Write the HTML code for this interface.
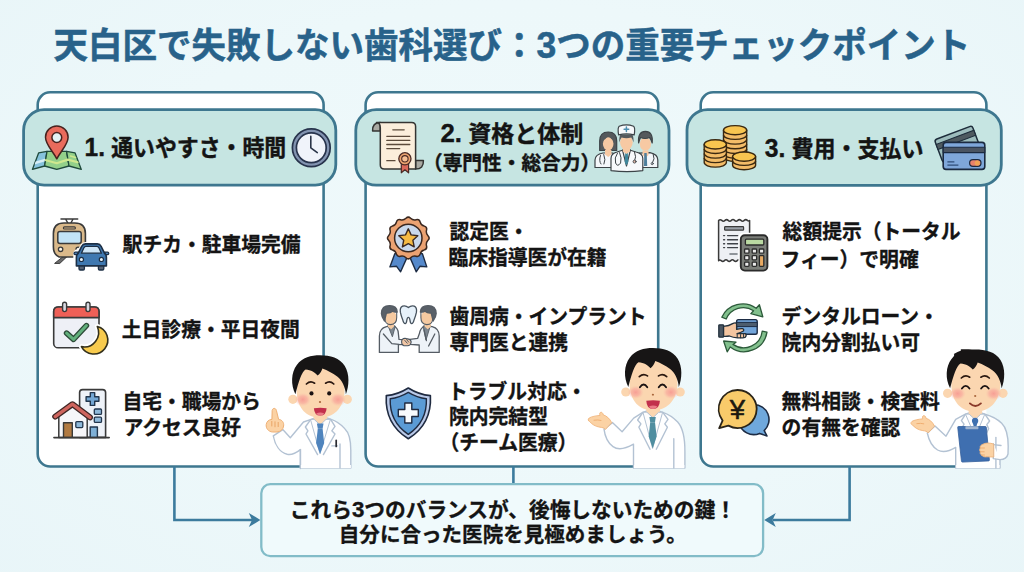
<!DOCTYPE html>
<html lang="ja">
<head>
<meta charset="utf-8">
<title>天白区で失敗しない歯科選び：3つの重要チェックポイント</title>
<style>
html,body{margin:0;padding:0;}
body{width:1024px;height:572px;overflow:hidden;position:relative;
  background:#ecf7fa;
  font-family:"Liberation Sans","Noto Sans CJK JP",sans-serif;font-weight:700;color:#141414;}
#bg{position:absolute;left:0;top:0;width:1024px;height:572px;
  background:radial-gradient(ellipse 760px 470px at 50% 46%, #eff9fb 0%, #edf8fa 55%, #e8f5f8 100%);}
svg#art{position:absolute;left:0;top:0;width:1024px;height:572px;}
.t{position:absolute;white-space:nowrap;line-height:1;transform-origin:0 50%;-webkit-text-stroke:0.32px currentColor;}
#title{-webkit-text-stroke:0.5px currentColor;}
#title .d{font-size:1.03em;}
#b1 .d{font-size:1.08em;}
#h1,#h2a,#h2b,#h3{-webkit-text-stroke:0.4px currentColor;}
.d{font-size:1.12em;line-height:0;}
.hw{font-feature-settings:"halt";}
</style>
</head>
<body>
<div id="bg"></div>
<svg id="art" viewBox="0 0 1024 572" width="1024" height="572">
<!-- CARDS -->
<g>
  <rect x="37.7" y="92.3" width="285.9" height="374.2" rx="12.5" fill="#ffffff"/>
  <path d="M302 466.5 H50.2 A12.5 12.5 0 0 1 37.7 454.0 V104.8 A12.5 12.5 0 0 1 50.2 92.3 H311.1 A12.5 12.5 0 0 1 323.6 104.8 V358" fill="none" stroke="#3e778f" stroke-width="2.6"/>
  <rect x="365.6" y="92.3" width="292.6" height="374.2" rx="12.5" fill="#ffffff"/>
  <path d="M635 466.5 H378.1 A12.5 12.5 0 0 1 365.6 454.0 V104.8 A12.5 12.5 0 0 1 378.1 92.3 H645.7 A12.5 12.5 0 0 1 658.2 104.8 V351" fill="none" stroke="#3e778f" stroke-width="2.6"/>
  <rect x="700.7" y="92.3" width="285.7" height="374.2" rx="12.5" fill="#ffffff"/>
  <path d="M957 466.5 H713.2 A12.5 12.5 0 0 1 700.7 454.0 V104.8 A12.5 12.5 0 0 1 713.2 92.3 H973.9 A12.5 12.5 0 0 1 986.4 104.8 V352" fill="none" stroke="#3e778f" stroke-width="2.6"/>
</g>
<!-- PILLS -->
<g fill="#c6e5e2" stroke="#3e778f" stroke-width="2.8">
  <rect x="23.6" y="109.7" width="312.2" height="75.4" rx="20.5"/>
  <rect x="355.8" y="109.7" width="313.2" height="75.5" rx="20.5"/>
  <rect x="687" y="109.6" width="314.3" height="75.7" rx="20.5"/>
</g>
<!-- CONNECTORS -->
<g fill="none" stroke="#3c7b9d" stroke-width="2.6" stroke-linejoin="miter">
  <path d="M174.4 466.5 V520 H252"/>
  <path d="M513.4 466.5 V484.2"/>
  <path d="M849.6 466.5 V520 H773"/>
</g>
<g fill="#3c7b9d">
  <path d="M260.4 520 L248.8 512.9 L252 520 L248.8 527.1 Z"/>
  <path d="M764.2 520 L775.8 512.9 L772.6 520 L775.8 527.1 Z"/>
</g>
<!-- BOTTOM BOX -->
<rect x="261.3" y="484.2" width="501.8" height="71.9" rx="9" fill="#f0fafc" stroke="#82bcc8" stroke-width="2.3"/>
<!-- ICON: map pin -->
<g stroke-linejoin="round" stroke-linecap="round">
  <path d="M38.7 152.8 L47 151.3 L44.6 166 L32.4 169.4 Z" fill="#86c3dc" stroke="#1f4a3c" stroke-width="1.3"/>
  <path d="M34.5 164.5 L45.2 161.3 L45.7 158.6 L35.6 161.6 Z" fill="#d8eef5"/>
  <path d="M47 151.3 L66.6 151.3 L69 166 L56.8 169.4 L44.6 166 Z" fill="#93d08a" stroke="#1f4a3c" stroke-width="1.3"/>
  <path d="M66.6 151.3 L75 152.8 L81.3 169.4 L69 166 Z" fill="#93d08a" stroke="#1f4a3c" stroke-width="1.3"/>
  <path d="M46 160.2 L56.8 163.2 L67.8 159.6 L77.6 162.2" stroke="#cfe88f" stroke-width="2.2" fill="none"/>
  <path d="M70.5 156 L75.5 157.5" stroke="#cfe88f" stroke-width="1.6" fill="none"/>
  <path d="M56.8 158.8 C52.5 150.5 45.5 144.5 45.5 137.2 A11.3 11.3 0 0 1 68.1 137.2 C68.1 144.5 61.1 150.5 56.8 158.8 Z" fill="#e96b5c" stroke="#47231f" stroke-width="1.5"/>
  <circle cx="56.8" cy="137.5" r="4.9" fill="#e3f3f5" stroke="#47231f" stroke-width="1.5"/>
</g>
<!-- ICON: clock -->
<g>
  <circle cx="311.3" cy="147.8" r="18.9" fill="#8293b0" stroke="#27334c" stroke-width="1.7"/>
  <circle cx="311.3" cy="147.8" r="14.9" fill="#f0f3fa" stroke="#27334c" stroke-width="1.7"/>
  <path d="M310.8 136.4 V147.8 L317.3 152.6" stroke="#2a3448" stroke-width="1.6" fill="none" stroke-linecap="round" stroke-linejoin="round"/>
</g>
<!-- ICON: certificate scroll -->
<g stroke-linejoin="round" stroke-linecap="round">
  <path d="M380.3 131 H372.6 Q372.2 122.5 380.3 122.5 Z" fill="#a9a9a2" stroke="#343432" stroke-width="1.5"/>
  <path d="M415.6 160.6 H423.4 Q423.8 169 415.6 169 Z" fill="#a9a9a2" stroke="#343432" stroke-width="1.5"/>
  <path d="M376.5 122.5 H411.6 Q415.6 122.5 415.6 126.5 V169 H384.3 Q380.3 169 380.3 165 V128 Q380.3 122.5 376.5 122.5 Z" fill="#fbeedb" stroke="#343432" stroke-width="1.5"/>
  <g stroke="#5b4a3a" stroke-width="1.3" fill="none">
    <path d="M392.8 129.8 H404.2"/>
    <path d="M386.8 136.3 H409.8"/>
    <path d="M386.8 140.4 H409.8"/>
    <path d="M386.8 144.5 H409.8"/>
    <path d="M386.8 148.6 H399.7"/>
    <path d="M386.8 160.7 H395"/>
  </g>
  <path d="M401.3 163 V172.8 L404.9 169.8 L408.6 172.8 V163 Z" fill="#d9685a" stroke="#4a2a25" stroke-width="1.2"/>
  <circle cx="404.9" cy="158.8" r="6.1" fill="#eba36f" stroke="#4a2a25" stroke-width="1.3"/>
  <circle cx="404.9" cy="158.8" r="3.2" fill="#f7bf94" stroke="#4a2a25" stroke-width="1.1"/>
</g>
<!-- ICON: doctors team -->
<g stroke-linejoin="round" stroke-linecap="round" stroke="#3c4347" stroke-width="1.2">
  <!-- left woman -->
  <path d="M599.7 150.5 V141 Q599.7 132 608.2 132 Q616.7 132 616.7 141 V150.5 Z" fill="#55595c"/>
  <path d="M595 167.5 V160 Q595 154.5 603 153 L613 153 L616 167.5 Z" fill="#f4f7fa"/>
  <path d="M605 150 H611.4 V154.5 L608.2 157 L605 154.5 Z" fill="#f7c9a3" stroke="none"/>
  <ellipse cx="608.2" cy="143.8" rx="5.3" ry="6.6" fill="#f7c9a3" stroke="none"/>
  <path d="M602.5 141 Q606 139 608.5 135.6 Q611 139 614 141 L614 137 Q611 133.6 608.2 133.6 Q604 133.6 602.5 137 Z" fill="#55595c" stroke="none"/>
  <path d="M600.5 155.5 Q598.6 161 601 164 M603.8 154.5 Q606 160 604 164" fill="none" stroke-width="1"/>
  <!-- right man -->
  <path d="M636.5 167.5 L639 153.2 L650 152.6 Q657.8 154.2 657.8 160 V167.5 Z" fill="#f4f7fa"/>
  <path d="M642.5 150.5 H648.5 V155 L645.5 158 L642.5 155 Z" fill="#f7c9a3" stroke="none"/>
  <path d="M644.3 153 L646.7 153 L647.2 166 L644 166 Z" fill="#4e7f9c" stroke="none"/>
  <ellipse cx="645.4" cy="144" rx="5.6" ry="6.8" fill="#f7c9a3" stroke="none"/>
  <path d="M638.6 143 Q637.6 131.4 645.4 131.4 Q653.2 131.4 652.2 143 Q651 139 649.5 137.5 Q645 139.5 640.6 137.5 Q639.5 139.5 638.6 143 Z" fill="#55595c"/>
  <path d="M653.2 154 Q655.4 159 652.4 163" fill="none" stroke-width="1"/>
  <circle cx="652.2" cy="163.6" r="1.1" fill="#d8dde2" stroke-width=".8"/>
  <!-- centre doctor -->
  <path d="M611 170.6 V158.5 Q611 153.5 617 152 L622.5 150.2 H630.3 L636 152 Q642.8 153.5 642.8 158.5 V170.6 Q627 172.6 611 170.6 Z" fill="#f7f9fb"/>
  <path d="M622.5 150.2 L626.5 166 L630.4 150.2 Z" fill="#dfe9ee"/>
  <path d="M625.3 152 H627.7 L628.3 162 L626.5 165.5 L624.7 162 Z" fill="#3f879b" stroke="none"/>
  <path d="M622.8 147 H630 V151.5 L626.4 154 L622.8 151.5 Z" fill="#f7c9a3" stroke="none"/>
  <ellipse cx="626.4" cy="142.3" rx="6.3" ry="7.6" fill="#f7c9a3" stroke="none"/>
  <path d="M619.3 142.5 Q619 137 620.4 134.6 H632.4 Q633.8 137 633.5 142.5 Q632.6 139 631.2 137.6 Q626.4 139 621.6 137.6 Q620.2 139 619.3 142.5 Z" fill="#55595c" stroke="none"/>
  <path d="M618.6 134.9 Q617.4 127.5 619.2 126.2 Q626.4 123.4 633.6 126.2 Q635.4 127.5 634.2 134.9 Q626.4 133 618.6 134.9 Z" fill="#f7f9fb"/>
  <path d="M626.4 127 V131.6 M624.1 129.3 H628.7" stroke="#4d8fb0" stroke-width="1.5" fill="none"/>
  <path d="M617.5 153 Q614 158 615.6 163 Q617.5 167.5 620.6 163 Q622 158 619.6 152.6" fill="none" stroke-width="1"/>
  <path d="M634.6 152.4 Q636.6 157 634.8 160.4" fill="none" stroke-width="1"/>
  <circle cx="634.6" cy="161.6" r="1.5" fill="#e4b9a8" stroke-width=".9"/>
</g>
<!-- ICON: coins -->
<g stroke="#3a2810" stroke-width="1.4" stroke-linejoin="round">
  <!-- back stack -->
  <path d="M723.5 130.2 V157 A11.6 4.5 0 0 0 746.7 157 V130.2 Z" fill="#f3bc68"/>
  <g fill="none">
    <path d="M723.5 134.9 A11.6 4.5 0 0 0 746.7 134.9"/>
    <path d="M723.5 139.6 A11.6 4.5 0 0 0 746.7 139.6"/>
    <path d="M723.5 144.3 A11.6 4.5 0 0 0 746.7 144.3"/>
    <path d="M723.5 149 A11.6 4.5 0 0 0 746.7 149"/>
    <path d="M723.5 153.6 A11.6 4.5 0 0 0 746.7 153.6"/>
  </g>
  <ellipse cx="735.1" cy="130.2" rx="11.6" ry="4.6" fill="#f8c550"/>
  <!-- left stack -->
  <path d="M704.2 144.4 V162.6 A11.1 4.5 0 0 0 726.4 162.6 V144.4 Z" fill="#f3bc68"/>
  <g fill="none">
    <path d="M704.2 149 A11.1 4.5 0 0 0 726.4 149"/>
    <path d="M704.2 153.6 A11.1 4.5 0 0 0 726.4 153.6"/>
    <path d="M704.2 158.1 A11.1 4.5 0 0 0 726.4 158.1"/>
  </g>
  <ellipse cx="715.3" cy="144.4" rx="11.1" ry="4.6" fill="#f8c550"/>
  <!-- front stack -->
  <path d="M732.6 156.6 V165.2 A11.5 4.5 0 0 0 755.6 165.2 V156.6 Z" fill="#f3bc68"/>
  <g fill="none">
    <path d="M732.6 160.9 A11.5 4.5 0 0 0 755.6 160.9"/>
  </g>
  <ellipse cx="744.1" cy="156.6" rx="11.5" ry="4.6" fill="#f8c550"/>
</g>
<!-- ICON: credit cards -->
<g stroke-linejoin="round">
  <g transform="rotate(-20.7 943 162.6)">
    <rect x="943" y="138.3" width="40.2" height="24.3" rx="2.6" fill="#9dbcbc" stroke="#1d2c3a" stroke-width="1.5"/>
    <rect x="943" y="143.2" width="40.2" height="5.4" fill="#4f5a60" stroke="#1d2c3a" stroke-width="1"/>
  </g>
  <rect x="943.2" y="142.4" width="41.6" height="27" rx="2.8" fill="#7fa7da" stroke="#1b2a40" stroke-width="1.6"/>
  <rect x="943.2" y="147.3" width="41.6" height="5.3" fill="#4a5462" stroke="#1b2a40" stroke-width="1.1"/>
  <path d="M947.4 161.8 H954.4 M947.4 165.2 H958.4" stroke="#2f4d78" stroke-width="1.3" fill="none"/>
  <rect x="969.6" y="159.6" width="11.4" height="6.8" rx="3.4" fill="#e8826c" stroke="#1b2a40" stroke-width="1.2"/>
  <circle cx="977.3" cy="163" r="2.6" fill="#f1a355"/>
</g>
<!-- ICON: train + car -->
<g stroke-linejoin="round" stroke-linecap="round">
  <path d="M61 218.9 H77.7 M65.6 219 L67.8 223 M73.1 219 L70.9 223" stroke="#3a3a3a" stroke-width="1.5" fill="none"/>
  <path d="M62.6 257 L54.6 263.4 H59.8 L66.6 257 Z M76 257 L82 262 H86 L79.8 257 Z" fill="#6d6d6d" stroke="#3a3a3a" stroke-width="1"/>
  <path d="M53.4 247 V233.5 Q53.4 223 64 223 H74.8 Q85.4 223 85.4 233.5 V247 Q85.4 254.5 79.6 257 H59.2 Q53.4 254.5 53.4 247 Z" fill="#dab98a" stroke="#3a3a3a" stroke-width="1.6"/>
  <rect x="63.4" y="226.8" width="12" height="2.2" rx="1.1" fill="#dab98a" stroke="#3a3a3a" stroke-width="1.2"/>
  <rect x="57.8" y="231.4" width="23.4" height="12" rx="2.2" fill="#c2e3f6" stroke="#3a3a3a" stroke-width="1.5"/>
  <circle cx="60.6" cy="249.3" r="2.2" fill="#fdf7ea" stroke="#3a3a3a" stroke-width="1.3"/>
  <circle cx="78.2" cy="249.3" r="2.2" fill="#fdf7ea" stroke="#3a3a3a" stroke-width="1.3"/>
  <!-- car with white halo -->
  <path d="M75.3 268 V253 Q76 251 79.5 251 L82.6 245.4 Q83.4 243.9 85.6 243.9 H97.2 Q99.4 243.9 100.2 245.4 L103.3 251 Q106.6 251 107.4 253 V268 Z" fill="#ffffff" stroke="#ffffff" stroke-width="4"/>
  <rect x="79" y="264" width="5.4" height="6" rx="1.2" fill="#566273" stroke="#1d2f45" stroke-width="1.3"/>
  <rect x="98.4" y="264" width="5.4" height="6" rx="1.2" fill="#566273" stroke="#1d2f45" stroke-width="1.3"/>
  <path d="M77.2 254.6 H75.2 Q74 254.6 74 253.4 Q74 252.2 75.2 252.2 H78.4 Z M105.6 254.6 H107.6 Q108.8 254.6 108.8 253.4 Q108.8 252.2 107.6 252.2 H104.4 Z" fill="#4a7fb5" stroke="#1d2f45" stroke-width="1.2"/>
  <path d="M76.4 265.9 V257.2 Q76.4 254.8 78.2 253.4 L81.8 246.2 Q82.8 243.9 85.4 243.9 H97.4 Q100 243.9 101 246.2 L104.6 253.4 Q106.4 254.8 106.4 257.2 V265.9 Z" fill="#3f78b0" stroke="#1d2f45" stroke-width="1.6"/>
  <path d="M81.4 253.2 L84 247.6 Q84.6 246.4 86 246.4 H96.8 Q98.2 246.4 98.8 247.6 L101.4 253.2 Z" fill="#cfe6f7" stroke="#1d2f45" stroke-width="1.3"/>
  <circle cx="81.4" cy="259.4" r="2.1" fill="#eef6fb" stroke="#1d2f45" stroke-width="1.2"/>
  <circle cx="101.4" cy="259.4" r="2.1" fill="#eef6fb" stroke="#1d2f45" stroke-width="1.2"/>
</g>
<!-- ICON: calendar + moon -->
<g stroke-linejoin="round" stroke-linecap="round">
  <rect x="53.7" y="307" width="45.3" height="40.8" rx="4.4" fill="#eef0f6" stroke="#3a3a3a" stroke-width="1.6"/>
  <path d="M53.7 317.6 V311.4 Q53.7 307 58.1 307 H94.6 Q99 307 99 311.4 V317.6 Z" fill="#ef6057" stroke="#3a3a3a" stroke-width="1.6"/>
  <rect x="62.6" y="302.2" width="4" height="9.4" rx="2" fill="#d9d9e1" stroke="#3a3a3a" stroke-width="1.4"/>
  <rect x="86" y="302.2" width="4" height="9.4" rx="2" fill="#d9d9e1" stroke="#3a3a3a" stroke-width="1.4"/>
  <path d="M66.6 333.2 L73.5 339.4 L86.4 325.6" fill="none" stroke="#2d4a38" stroke-width="5.6"/>
  <path d="M66.6 333.2 L73.5 339.4 L86.4 325.6" fill="none" stroke="#62b07c" stroke-width="3"/>
  <path d="M97.3 326.5 A14 14 0 1 1 81.4 346.6 A14.4 14.4 0 0 0 97.3 326.5 Z" fill="#ffffff" stroke="#ffffff" stroke-width="5"/>
  <path d="M97.3 326.5 A14 14 0 1 1 81.4 346.6 A14.4 14.4 0 0 0 97.3 326.5 Z" fill="#f8cb4e" stroke="#33301c" stroke-width="1.6"/>
</g>
<!-- ICON: house + hospital -->
<g stroke-linejoin="round" stroke-linecap="round">
  <path d="M79.6 437.4 V392.6 Q79.6 389.6 82.6 389.6 H102.6 Q105.6 389.6 105.6 392.6 V437.4 Z" fill="#eef2f8" stroke="#3a3a3a" stroke-width="1.6"/>
  <path d="M90.3 392.6 H94.7 V396.8 H98.9 V401.2 H94.7 V405.4 H90.3 V401.2 H86.1 V396.8 H90.3 Z" fill="#73a6d3" stroke="#23364d" stroke-width="1.4"/>
  <rect x="94.3" y="409" width="7.2" height="5.4" rx="1" fill="#8fb9da" stroke="#23364d" stroke-width="1.3"/>
  <rect x="94.3" y="417.2" width="7.2" height="5.2" rx="1" fill="#8fb9da" stroke="#23364d" stroke-width="1.3"/>
  <rect x="90.2" y="427" width="7.2" height="10.4" fill="#7fb0d6" stroke="#23364d" stroke-width="1.4"/>
  <path d="M58.8 437.4 V416 L72.4 406 L87.2 417 V437.4 Z" fill="#f6f6f9" stroke="#3a3a3a" stroke-width="1.5"/>
  <path d="M55.2 416.6 L72.4 404.2 L90 417.4" fill="none" stroke="#3f2624" stroke-width="6"/>
  <path d="M55.2 416.6 L72.4 404.2 L90 417.4" fill="none" stroke="#cf655e" stroke-width="3.4"/>
  <rect x="63.5" y="422.8" width="8.8" height="14.6" fill="#b17a42" stroke="#3a3a3a" stroke-width="1.4"/>
  <rect x="75.8" y="421.6" width="7" height="6" rx="1" fill="#8fb9da" stroke="#23364d" stroke-width="1.3"/>
  <path d="M53.9 437.6 H109.2" stroke="#3a3a3a" stroke-width="1.6"/>
</g>
<!-- ICON: medal -->
<g stroke-linejoin="round" stroke-linecap="round">
  <path d="M394.8 253.7 L389.9 266.9 L396.6 266.3 L400.6 271.8 L406.6 258.4 L403 252 Z" fill="#5589cb" stroke="#1d2c44" stroke-width="1.4"/>
  <path d="M422.4 253.7 L426.8 266.9 L419.9 266.3 L416.2 271.8 L410.4 258.4 L414 252 Z" fill="#5589cb" stroke="#1d2c44" stroke-width="1.4"/>
  <path d="M410.6 218.3 Q413.0 220.6 416.1 219.8 Q419.3 218.9 420.2 222.1 Q421.0 225.3 424.2 226.1 Q427.4 227.0 426.5 230.2 Q425.7 233.3 428.0 235.7 Q430.3 238.0 428.0 240.3 Q425.7 242.7 426.5 245.8 Q427.4 249.0 424.2 249.9 Q421.0 250.7 420.2 253.9 Q419.3 257.1 416.1 256.2 Q413.0 255.4 410.6 257.7 Q408.3 260.0 406.0 257.7 Q403.6 255.4 400.5 256.2 Q397.3 257.1 396.4 253.9 Q395.6 250.7 392.4 249.9 Q389.2 249.0 390.1 245.8 Q390.9 242.7 388.6 240.3 Q386.3 238.0 388.6 235.7 Q390.9 233.3 390.1 230.2 Q389.2 227.0 392.4 226.1 Q395.6 225.3 396.4 222.1 Q397.3 218.9 400.5 219.8 Q403.6 220.6 406.0 218.3 Q408.3 216.0 410.6 218.3 Z" fill="#eba272" stroke="#3a2820" stroke-width="1.5"/>
  <circle cx="408.3" cy="238.0" r="13.7" fill="#c9d8ec" stroke="#3a2820" stroke-width="1.5"/>
  <path d="M408.3 228.8 L411.1 234.9 L417.8 235.7 L412.9 240.3 L414.2 246.9 L408.3 243.6 L402.4 246.9 L403.7 240.3 L398.8 235.7 L405.5 234.9 Z" fill="#f5ba44" stroke="#3a2820" stroke-width="1.4"/>
</g>
<!-- ICON: handshake doctors + tooth -->
<g stroke-linejoin="round" stroke-linecap="round" stroke="#555c64" stroke-width="1.3">
  <!-- tooth -->
  <path d="M408.4 307.6 Q405.6 305.2 402.6 306.2 Q399.6 307.6 400.4 312.4 Q401.2 316 402.6 319.4 Q403.6 323.6 405.2 323.6 Q406.4 323.6 406.8 320.4 Q407.2 317.4 408.4 317.4 Q409.6 317.4 410 320.4 Q410.4 323.6 411.6 323.6 Q413.2 323.6 414.2 319.4 Q415.6 316 416.4 312.4 Q417.2 307.6 414.2 306.2 Q411.2 305.2 408.4 307.6 Z" fill="#e6f1fa" stroke="#46525e"/>
  <!-- left doctor -->
  <path d="M379.4 352.4 V336 Q379.4 328.4 386.4 326.6 L394 326 Q398.2 328.5 398.3 333 L399 339.4 L406 339.8 V344.4 L398.4 344.6 V352.4 Z" fill="#eef3f8"/>
  <path d="M388 325.6 L392.4 336.8 L395.2 326.4 Z" fill="#7d8790" stroke-width=".9"/>
  <path d="M383.4 334 L391.8 343.6 L399 344.4" fill="none"/>
  <path d="M387.2 322 H394 V326.6 L391.2 329.2 L388 326.8 Z" fill="#f5c9a0" stroke="none"/>
  <ellipse cx="390.8" cy="317.6" rx="5.9" ry="7" fill="#f5c9a0" stroke="none"/>
  <path d="M384.4 321 Q381.6 317 381.4 313.4 Q381.6 305.6 389.6 305.6 Q397 305.6 397.2 312 Q394.6 312.6 392.6 311.2 Q390 313.4 386.4 313 Q385.6 316.4 384.4 321 Z" fill="#596068"/>
  <path d="M384.9 318.5 Q384.9 324.6 390.8 324.6 Q396.7 324.6 396.7 317.6 L396.7 312.4" fill="none" stroke-width="1.1"/>
  <!-- right doctor -->
  <path d="M439.2 352.4 V336 Q439.2 328.4 432.2 326.6 L424.4 326 Q420.2 328.5 419.6 333 L417.6 338.4 L410 339.4 V344.4 L419.2 345 V352.4 Z" fill="#eef3f8"/>
  <path d="M430.4 325.6 L426 340 L423.2 326.4 Z" fill="#7d8790" stroke-width=".9"/>
  <path d="M434.8 334 L428.6 346 M424 330 L426.4 340.6" fill="none"/>
  <path d="M424 322 H430.8 V326.8 L427.6 329.2 L424.6 326.6 Z" fill="#f5c9a0" stroke="none"/>
  <ellipse cx="426.8" cy="317.6" rx="5.9" ry="7" fill="#f5c9a0" stroke="none"/>
  <path d="M433.2 321 Q436 317 436.2 313.4 Q436 305.6 428 305.6 Q420.6 305.6 420.4 312 Q423 312.6 425 311.2 Q427.6 313.4 431.2 313 Q432 316.4 433.2 321 Z" fill="#596068"/>
  <path d="M432.7 318.5 Q432.7 324.6 426.8 324.6 Q420.9 324.6 420.9 317.6 L420.9 312.4" fill="none" stroke-width="1.1"/>
  <!-- hands -->
  <path d="M402 339.6 Q404 337.8 406.4 338.6 L409.6 339.4 Q411.6 340.4 411 343 Q410.4 345.6 407.6 345.8 L403.6 345.6 Q401.4 344.6 401.6 342 Z" fill="#f1c6a4" stroke="#46525e" stroke-width="1.1"/>
  <path d="M404.8 340.4 L407.2 343.2 M406.6 339.6 L408.8 342.2" fill="none" stroke="#46525e" stroke-width=".9"/>
</g>
<!-- ICON: shield -->
<g stroke-linejoin="round" stroke-linecap="round">
  <path d="M408.3 388 Q397.6 394.8 386.3 395.6 Q384.6 424 408.3 438.8 Q432 424 430.4 395.6 Q419 394.8 408.3 388 Z" fill="#b9c9e8" stroke="#1f2a40" stroke-width="1.6"/>
  <path d="M408.3 392.4 Q399.4 397.8 390.2 398.8 Q389.4 421.8 408.3 434.4 Q427.2 421.8 426.4 398.8 Q417.2 397.8 408.3 392.4 Z" fill="#5b9bd5" stroke="#1f2a40" stroke-width="1.4"/>
  <path d="M404.8 403 H411.8 V409.5 H418.3 V416.5 H411.8 V423 H404.8 V416.5 H398.3 V409.5 H404.8 Z" fill="#f7fafd" stroke="#1f2a40" stroke-width="1.4"/>
</g>
<!-- ICON: receipt + calculator -->
<g stroke-linejoin="round" stroke-linecap="round">
  <path d="M718.6 220.6 Q720.2 218.8 721.8 220.4 Q723.4 222 725 220.4 Q726.6 218.8 728.2 220.4 Q729.8 222 731.4 220.4 Q733 218.8 734.6 220.4 Q736.2 222 737.8 220.4 Q739.4 218.8 741 220.4 Q742.6 222 744.2 220.4 Q745.8 218.8 747.4 220.4 Q748.6 221.6 749.6 220.6 V260.6 Q748.4 262.2 746.8 260.6 Q745.2 259 743.6 260.6 Q742 262.2 740.4 260.6 Q738.8 259 737.2 260.6 Q735.6 262.2 734 260.6 Q732.4 259 730.8 260.6 Q729.2 262.2 727.6 260.6 Q726 259 724.4 260.6 Q722.8 262.2 721.2 260.6 Q719.8 259.4 718.6 260.6 Z" fill="#eef0f4" stroke="#3a3a3a" stroke-width="1.5"/>
  <rect x="724.6" y="226.6" width="19" height="3.6" rx=".8" fill="#9aa0a8" stroke="#3a3a3a" stroke-width="1.2"/>
  <g stroke="#3f4248" stroke-width="1.4" fill="none">
    <path d="M723.6 235.6 H724.6 M727.6 235.6 H737.7"/>
    <path d="M723.6 239.7 H724.6 M727.6 239.7 H737.7"/>
    <path d="M723.6 243.8 H724.6 M727.6 243.8 H737.7"/>
    <path d="M723.6 247.6 H724.6 M727.6 247.6 H737.7"/>
    <path d="M730 254 H737" stroke="#70757c" stroke-width="1.6"/>
  </g>
  <rect x="738.4" y="232.8" width="31.4" height="40" rx="5" fill="#ffffff"/>
  <rect x="740.8" y="235.2" width="26.6" height="35.4" rx="4" fill="#7b7e79" stroke="#2b2b2b" stroke-width="1.9"/>
  <rect x="745.4" y="239.2" width="18.4" height="5.8" rx="1" fill="#bad9a2" stroke="#2b2b2b" stroke-width="1.3"/>
  <g fill="#ececec" stroke="#2b2b2b" stroke-width="1.3">
    <rect x="744.6" y="249" width="4.4" height="4.2" rx=".8"/>
    <rect x="752.2" y="249" width="4.4" height="4.2" rx=".8"/>
    <rect x="759.4" y="249" width="4.4" height="4.2" rx=".8"/>
    <rect x="744.6" y="255.6" width="4.4" height="4.2" rx=".8"/>
    <rect x="752.2" y="255.6" width="4.4" height="4.2" rx=".8"/>
    <rect x="744.6" y="262.2" width="4.4" height="4.2" rx=".8"/>
    <rect x="752.2" y="262.2" width="4.4" height="4.2" rx=".8"/>
  </g>
  <rect x="759.4" y="255.6" width="4.4" height="10.8" rx=".8" fill="#e9aa62" stroke="#2b2b2b" stroke-width="1.3"/>
</g>
<!-- ICON: hand card + arrows -->
<g stroke-linejoin="round" stroke-linecap="round">
  <!-- top arc -->
  <path d="M721.8 317.2 A23.2 23.2 0 0 1 756.2 308.2 L759.4 304.8 L762.8 316.8 L750.8 313.6 L753.6 310.8 A18.6 18.6 0 0 0 726.2 319 Z" fill="#82c08d" stroke="#2c5a3a" stroke-width="1.3"/>
  <!-- bottom arc -->
  <path d="M767 332.2 A23.2 23.2 0 0 1 730.2 347 L727.2 351.8 L723.6 341 L736 342.2 L733 344.4 A18.6 18.6 0 0 0 762.2 331.2 Z" fill="#82c08d" stroke="#2c5a3a" stroke-width="1.3"/>
  <!-- card -->
  <rect x="736.6" y="319.6" width="20.6" height="14.6" rx="1.8" fill="#72a5da" stroke="#1d2c44" stroke-width="1.4"/>
  <path d="M736.6 322.4 H757.2 V326.6 H736.6 Z" fill="#4d5d6e" stroke="#1d2c44" stroke-width="1"/>
  <!-- sleeve + hand -->
  <rect x="718.8" y="324.8" width="4.8" height="12.4" rx=".8" fill="#4c5763" stroke="#22303c" stroke-width="1.3"/>
  <path d="M723.6 326.4 Q729 326 732.6 323.6 Q735.4 322 736.6 323.6 V329.4 Q739.8 328.4 742.4 328.6 Q744.4 329.2 743.4 331 Q740.6 332.8 737 333.6 H745.6 Q747 335.6 745 337.4 Q742 338.2 737.6 337.8 Q733 337.6 729.4 336 Q726.4 336.6 723.6 336.4 Z" fill="#f4c5a0" stroke="#22303c" stroke-width="1.3"/>
  <path d="M737.2 334.4 V337.6 M740.6 334.6 V337.8 M743.6 334.4 V337.4" fill="none" stroke="#22303c" stroke-width="1"/>
</g>
<!-- ICON: yen speech bubbles -->
<g stroke-linejoin="round" stroke-linecap="round">
  <path d="M753.8 404.6 A15 15 0 0 1 764.2 430.6 L767 436 L759.6 433.4 A15 15 0 1 1 753.8 404.6 Z" fill="#6fa8dc" stroke="#1d2c44" stroke-width="1.6"/>
  <path d="M737.5 390 A19 19 0 1 1 728.4 425.6 L719.2 428.2 L722.6 420.6 A19 19 0 0 1 737.5 390 Z" fill="#f9cb6a" stroke="#2a2418" stroke-width="1.8"/>
  <text x="737.5" y="419" text-anchor="middle" font-family="'Liberation Sans','Noto Sans CJK JP',sans-serif" font-size="27.5" font-weight="400" fill="#1c1810" stroke="#1c1810" stroke-width=".5">¥</text>
</g>

<defs><radialGradient id="ck"><stop offset="0" stop-color="#f79a92" stop-opacity=".92"/><stop offset=".55" stop-color="#f8a59b" stop-opacity=".62"/><stop offset="1" stop-color="#fbc0aa" stop-opacity="0"/></radialGradient></defs>
<!-- DOCTOR 1 -->
<g stroke-linejoin="round" stroke-linecap="round">
  <path d="M 310.4 419.6 L 303.5 422 L 290.3 437.7 L 282.8 429.6 L 273.3 435.8 C 275 445 280 452.4 287.2 454.3 C 292 455.3 296.4 452.8 300.4 449.6 L 300.4 468 L 350.8 468 L 350.8 450.3 C 350.8 440 349 432.6 345 428.9 C 341 424.4 336 421 330.6 419.2 L 320.4 416 Z" fill="#ffffff" stroke="#b3c2d3" stroke-width="1.4"/>
  <path d="M 300.4 468.6 V 449.6" stroke="#b3c2d3" stroke-width="1.4" fill="none"/>
  <rect x="300.9" y="465" width="50" height="3.2" fill="#ffffff"/>
  <path d="M 340 444 V 468" stroke="#b3c2d3" stroke-width="1.4" fill="none"/>
  <path d="M 313.6 416 H 327.2 L 327 424 L 320.2 428 L 313.6 424 Z" fill="#fbd6b0"/>
  <path d="M 310.6 419.8 L 320 453.6 L 330.4 419.4 L 326 419.4 L 320.2 425 L 314.4 419.6 Z" fill="#fdfdfe" stroke="#b3c2d3" stroke-width="1"/>
  <path d="M 316.9 423.4 H 323.5 L 322.6 428.8 H 317.8 Z" fill="#4f84bd"/>
  <path d="M 317.8 428.8 H 322.6 L 324.2 443 L 320.1 454 L 316.1 443 Z" fill="#4f84bd"/>
  <path d="M 310.4 419.8 L 305.4 427 L 307.9 430.8 L 306 434 L 317.6 454.6 M 330.6 419.4 L 335 426.4 L 331.8 430.8 L 335 434 L 323.4 454.6" fill="none" stroke="#b3c2d3" stroke-width="1.4"/>
  <path d="M 331.8 445.9 H 337.6" stroke="#b3c2d3" stroke-width="1.2" fill="none"/>
  <path d="M 336.2 440.4 V 446.4" stroke="#2a2a30" stroke-width="1.7" fill="none"/>
  <path d="M 272.2 410.2 C 272.6 407.6 275.8 407.8 276.4 410.4 L 278.6 419.4 C 282 419.6 284.2 422.6 283.6 426 C 283.2 429.4 280.8 431.6 277 432 L 272.4 432 C 268.4 431.6 265.8 428.4 266.2 424.6 C 266.6 421.4 268.8 419.6 271.6 419.4 Z" fill="#fbd2a4" stroke="#eeb076" stroke-width="1"/>
  <path d="M 271.8 421.4 V 426 M 275 421.8 V 426.8 M 278.2 422.4 V 426.6" stroke="#e9a566" stroke-width="1" fill="none"/>
  <circle cx="292.9" cy="399.3" r="4.6" fill="#fbd6b0"/>
  <circle cx="347.3" cy="399.3" r="4.6" fill="#fbd6b0"/>
  <path d="M 296.6 390.0 C 296.6 404.0 303.0 417.6 320.0 417.6 C 337.0 417.6 344.6 404.0 344.6 390.0 C 344.6 374.0 334.0 364.0 320.6 364.0 C 306.0 364.0 296.6 374.0 296.6 390.0 Z" fill="#fbd6b0"/>
  <ellipse cx="302.8" cy="399.6" rx="8.2" ry="6.8" fill="url(#ck)"/>
  <ellipse cx="338.0" cy="399.6" rx="8.2" ry="6.8" fill="url(#ck)"/>
  <path d="M 295.4 394.2 C 290.6 385.0 291.0 372.5 296.8 365.0 C 302.5 357.2 311.0 355.3 320.0 355.3 C 330.0 355.3 340.0 358.0 344.8 366.0 C 349.8 374.0 349.2 386.0 345.9 394.2 C 345.2 387.0 342.0 380.0 337.2 376.4 C 332.5 373.0 327.5 370.2 322.4 368.4 C 321.6 371.0 319.8 373.8 317.6 375.6 C 315.4 372.8 311.0 370.0 305.6 369.6 C 301.4 372.4 298.6 382.0 295.4 394.2 Z" fill="#171515"/>
  <path d="M 306.4 384.0 Q 310.4 380.2 314.6 383.2" fill="none" stroke="#2a1810" stroke-width="1.7" stroke-linecap="round"/>
  <path d="M 325.6 383.2 Q 329.8 380.2 333.8 384.0" fill="none" stroke="#2a1810" stroke-width="1.7" stroke-linecap="round"/>
  <circle cx="311.5" cy="393.4" r="2.05" fill="#1a1212"/>
  <circle cx="329.2" cy="393.4" r="2.05" fill="#1a1212"/>
  <ellipse cx="320.0" cy="402.0" rx="1.1" ry=".9" fill="#a8663c"/>
  <path d="M 313.9 408.2 Q 320.2 407.2 326.6 408.2 Q 326.2 415.6 320.2 415.6 Q 314.3 415.6 313.9 408.2 Z" fill="#c2304c"/>
  <path d="M 316.2 413.4 Q 320.2 411.4 324.3 413.4 Q 322.6 415.6 320.2 415.6 Q 317.8 415.6 316.2 413.4 Z" fill="#ea7b86"/>
</g>
<!-- DOCTOR 2 -->
<g stroke-linejoin="round" stroke-linecap="round">
  <path d="M 642.8 412.3 L 633.7 418.1 L 622.1 431.7 L 612.4 422.6 L 604 429.1 C 605 437 608 443 613 446.6 C 618 450.2 624 449.6 633.5 444.2 L 633.5 468 L 684.9 468 L 684.9 451.7 C 685 438 683 428 677.7 422 C 673 417 668 414 662.8 412.3 L 652.8 409 Z" fill="#ffffff" stroke="#b3c2d3" stroke-width="1.4"/>
  <rect x="634" y="465" width="50.4" height="3.2" fill="#ffffff"/>
  <path d="M 673.8 438.8 V 468" stroke="#b3c2d3" stroke-width="1.4" fill="none"/>
  <path d="M 646.4 408.6 H 660 L 659.8 416.6 L 653 420.6 L 646.4 416.6 Z" fill="#fbd6b0"/>
  <path d="M 643 412.5 L 652.6 448.4 L 662.6 412.3 L 658.6 412.3 L 652.9 417.8 L 647.2 412.5 Z" fill="#fdfdfe" stroke="#b3c2d3" stroke-width="1"/>
  <path d="M 649.4 417 H 655.8 L 655 422.2 H 650.2 Z" fill="#4f8ea0"/>
  <path d="M 650.2 422.2 H 655 L 656.6 436.6 L 652.7 448.6 L 648.7 436.6 Z" fill="#4f8ea0"/>
  <path d="M 642.8 412.5 L 637.6 420 L 640.9 423.9 L 638.9 427.2 L 650 449.2 M 662.8 412.3 L 668 419.4 L 664.8 423.9 L 667.4 427.2 L 656.3 449.2" fill="none" stroke="#b3c2d3" stroke-width="1.4"/>
  <path d="M 611.6 422.4 C 609.6 418.2 606 415.6 603.4 415 C 602.8 412.8 601.6 411.8 600.4 412.4 C 599.4 413 599.6 414.4 600 415.4 C 596 415.8 591.4 416.6 589.2 418 C 587.6 419.2 588 421 589.8 421.6 C 591.6 424.2 595.6 426.6 600 427.2 C 602.4 427.4 604.4 428 605.2 429.2 Z" fill="#fbd2a4" stroke="#f0b47c" stroke-width=".9"/>
  <path d="M 594 420.2 Q 598 419.6 601 420.4" stroke="#eeaa6c" stroke-width=".9" fill="none"/>
  <circle cx="625.8" cy="392.0" r="4.6" fill="#fbd6b0"/>
  <circle cx="680.2" cy="392.0" r="4.6" fill="#fbd6b0"/>
  <path d="M 629.5 382.7 C 629.5 396.7 635.9 410.3 652.9 410.3 C 669.9 410.3 677.5 396.7 677.5 382.7 C 677.5 366.7 666.9 356.7 653.5 356.7 C 638.9 356.7 629.5 366.7 629.5 382.7 Z" fill="#fbd6b0"/>
  <ellipse cx="635.7" cy="392.3" rx="8.2" ry="6.8" fill="url(#ck)"/>
  <ellipse cx="670.9" cy="392.3" rx="8.2" ry="6.8" fill="url(#ck)"/>
  <path d="M 628.3 386.9 C 623.5 377.7 623.9 365.2 629.7 357.7 C 635.4 349.9 643.9 348.0 652.9 348.0 C 662.9 348.0 672.9 350.7 677.7 358.7 C 682.7 366.7 682.1 378.7 678.8 386.9 C 678.1 379.7 674.9 372.7 670.1 369.1 C 665.4 365.7 660.4 362.9 655.3 361.1 C 654.5 363.7 652.7 366.5 650.5 368.3 C 648.3 365.5 643.9 362.7 638.5 362.3 C 634.3 365.1 631.5 374.7 628.3 386.9 Z" fill="#171515"/>
  <path d="M 639.3 376.7 Q 643.3 372.9 647.5 375.9" fill="none" stroke="#2a1810" stroke-width="1.7" stroke-linecap="round"/>
  <path d="M 658.5 375.9 Q 662.7 372.9 666.7 376.7" fill="none" stroke="#2a1810" stroke-width="1.7" stroke-linecap="round"/>
  <path d="M 639.9 387.3 Q 643.6 381.7 647.3 387.3" fill="none" stroke="#1a1212" stroke-width="1.8" stroke-linecap="round"/>
  <path d="M 658.7 387.3 Q 662.4 381.7 666.1 387.3" fill="none" stroke="#1a1212" stroke-width="1.8" stroke-linecap="round"/>
  <ellipse cx="652.9" cy="394.7" rx="1.1" ry=".9" fill="#a8663c"/>
  <path d="M 646.3 400.7 Q 653.1 399.7 659.9 400.7 Q 659.5 409.1 653.1 409.1 Q 646.7 409.1 646.3 400.7 Z" fill="#c2304c"/>
  <path d="M 648.9 406.5 Q 653.1 404.3 657.4 406.5 Q 655.7 409.1 653.1 409.1 Q 650.5 409.1 648.9 406.5 Z" fill="#ea7b86"/>
</g>
<!-- DOCTOR 3 -->
<g stroke-linejoin="round" stroke-linecap="round">
  <path d="M 965.4 414.2 L 955.7 419.4 L 946 436.2 L 935 425.9 L 927.3 433 C 929 441 932.6 447 937.6 450 C 942.6 452.8 948 452 955.7 447.4 L 955.7 468 L 1000 468 L 1000 459.6 C 1004 459.6 1007 458 1008 454 L 1008.2 446.6 C 1008.2 436 1006.6 428 1001.7 423.3 C 997 418.6 991 415.8 984.9 414.2 L 975.1 411 Z" fill="#ffffff" stroke="#b3c2d3" stroke-width="1.4"/>
  <rect x="956.2" y="465" width="43.4" height="3.2" fill="#ffffff"/>
  <path d="M 995.9 437.5 V 468" stroke="#b3c2d3" stroke-width="1.4" fill="none"/>
  <path d="M 968.6 410 H 982.2 L 982 418 L 975.2 422 L 968.6 418 Z" fill="#fbd6b0"/>
  <path d="M 965.6 414.4 L 971 427 H 979.4 L 984.8 414.2 L 980.8 414.2 L 975.1 419.6 L 969.4 414.4 Z" fill="#fdfdfe" stroke="#b3c2d3" stroke-width="1"/>
  <path d="M 975.1 417.8 C 977.4 417.8 978.6 419.4 978.2 421.4 C 977.8 423.2 976.4 424 976.6 427 H 973.6 C 973.8 424 972.4 423.2 972 421.4 C 971.6 419.4 972.8 417.8 975.1 417.8 Z" fill="#3f70b0"/>
  <path d="M 965.4 414.4 L 961.4 420.6 L 964 424.2 L 962.8 426.6 M 984.9 414.2 L 989.6 421 L 986.8 424.6 L 988.6 428.6 L 986.6 433" fill="none" stroke="#b3c2d3" stroke-width="1.4"/>
  <path d="M 957.7 427.2 Q 957.6 426.5 958.4 426.5 H 985.4 Q 986.2 426.5 986.3 427.3 L 989.4 460 Q 989.5 460.8 988.7 460.9 L 962.4 462.1 Q 961.6 462.1 961.5 461.3 Z" fill="#3f6fb0" stroke="#35609c" stroke-width=".8"/>
  <rect x="965.4" y="426.2" width="13" height="3" rx=".6" fill="#9fb4d0"/>
  <path d="M 993.3 444.6 L 1001 445.5" stroke="#b3c2d3" stroke-width="1.4" fill="none"/>
  <path d="M 993.3 443.6 V 458.6 L 1000 459.6" stroke="#b3c2d3" stroke-width="1.4" fill="#ffffff"/>
  <path d="M 993.4 444 C 990 442.6 985.6 442.8 983 444.2 C 980.6 445 979.6 446.6 980.4 448 C 979.4 449.2 979.4 450.8 980.4 451.8 C 979.8 453 980.2 454.4 981.6 455 C 982.4 456.6 984.6 457.2 987 456.8 L 993.4 457 Z" fill="#fbd2a4" stroke="#f0b47c" stroke-width=".9"/>
  <path d="M 980.6 448 H 984.4 M 980.6 451.8 H 984.2 M 981.8 455 H 984.4" stroke="#eeaa6c" stroke-width=".9" fill="none"/>
  <path d="M 934.4 425.8 C 932.4 421.6 928.8 419 926.2 418.4 C 925.6 416.2 924.4 415.2 923.2 415.8 C 922.2 416.4 922.4 417.8 922.8 418.8 C 918.8 419.2 914.2 420 912 421.4 C 910.4 422.6 910.8 424.4 912.6 425 C 914.4 427.6 918.4 430 922.8 430.6 C 925.2 430.8 927.2 431.4 928 432.6 Z" fill="#fbd2a4" stroke="#f0b47c" stroke-width=".9"/>
  <path d="M 916.8 423.6 Q 920.8 423 923.8 423.8" stroke="#eeaa6c" stroke-width=".9" fill="none"/>
  <circle cx="947.6" cy="393.3" r="4.6" fill="#fbd6b0"/>
  <circle cx="1003.0" cy="393.3" r="4.6" fill="#fbd6b0"/>
  <path d="M 951.3 384.0 C 951.3 398.0 957.9 411.6 975.2 411.6 C 992.5 411.6 1000.3 398.0 1000.3 384.0 C 1000.3 368.0 989.5 358.0 975.8 358.0 C 960.9 358.0 951.3 368.0 951.3 384.0 Z" fill="#fbd6b0"/>
  <ellipse cx="957.7" cy="393.6" rx="8.2" ry="6.8" fill="url(#ck)"/>
  <ellipse cx="993.6" cy="393.6" rx="8.2" ry="6.8" fill="url(#ck)"/>
  <path d="M 950.1 388.2 C 945.2 379.0 945.6 366.5 951.5 359.0 C 953.8 356.5 955.0 355.0 953.8 354.0 C 956.3 352.5 958.9 351.4 960.9 350.8 C 960.5 349.8 960.7 349.6 961.3 349.3 C 966.0 349.3 971.1 349.5 975.2 349.6 C 985.4 349.6 995.6 352.0 1000.5 360.0 C 1005.6 368.0 1005.0 380.0 1001.6 388.2 C 1000.9 381.0 997.6 374.0 992.7 370.4 C 988.0 367.0 982.9 364.2 977.7 362.4 C 976.8 365.0 975.0 367.8 972.8 369.6 C 970.5 366.8 966.0 364.0 960.5 363.6 C 956.2 366.4 953.4 376.0 950.1 388.2 Z" fill="#171515"/>
  <path d="M 961.3 378.0 Q 965.4 374.2 969.7 377.2" fill="none" stroke="#2a1810" stroke-width="1.7" stroke-linecap="round"/>
  <path d="M 980.9 377.2 Q 985.2 374.2 989.3 378.0" fill="none" stroke="#2a1810" stroke-width="1.7" stroke-linecap="round"/>
  <path d="M 961.9 388.6 Q 965.7 383.0 969.5 388.6" fill="none" stroke="#1a1212" stroke-width="1.8" stroke-linecap="round"/>
  <path d="M 981.1 388.6 Q 984.9 383.0 988.7 388.6" fill="none" stroke="#1a1212" stroke-width="1.8" stroke-linecap="round"/>
  <ellipse cx="975.2" cy="396.0" rx="1.1" ry=".9" fill="#a8663c"/>
  <path d="M 969.9 403.4 Q 975.4 408.6 980.9 403.4" fill="none" stroke="#8a3a2a" stroke-width="1.9" stroke-linecap="round"/>
</g>

</svg>

<div class="t" id="title" style="left:53.40px;top:28.95px;font-size:34.50px;transform:scaleY(1.030);color:#28628a;">天白区で失敗しない歯科選び：<span class="d">3</span>つの重要チェックポイント</div>
<div class="t" id="h1" style="left:84.60px;top:138.20px;font-size:21.90px;transform:scaleY(1.020);"><span class="d">1.</span> 通いやすさ・時間</div>
<div class="t" id="h2a" style="left:440.40px;top:123.20px;font-size:23.00px;"><span class="d">2.</span> 資格と体制</div>
<div class="t" id="h2b" style="left:432.80px;top:154.20px;font-size:19.70px;"><span class="hw">（</span>専門性・総合力<span class="hw">）</span></div>
<div class="t" id="h3" style="left:764.80px;top:138.60px;font-size:22.00px;transform:scaleY(1.030);"><span class="d">3.</span> 費用・支払い</div>
<div class="t" id="c1r1" style="left:122.60px;top:236.00px;font-size:19.80px;transform:scaleY(1.050);">駅チカ・駐車場完備</div>
<div class="t" id="c1r2" style="left:121.80px;top:321.00px;font-size:19.80px;transform:scaleY(1.050);">土日診療・平日夜間</div>
<div class="t" id="c1r3a" style="left:122.40px;top:393.20px;font-size:19.80px;transform:scaleY(1.050);">自宅・職場から</div>
<div class="t" id="c1r3b" style="left:123.40px;top:419.00px;font-size:19.80px;transform:scaleY(1.050);">アクセス良好</div>
<div class="t" id="c2r1a" style="left:449.40px;top:223.00px;font-size:19.80px;transform:scaleY(1.050);">認定医・</div>
<div class="t" id="c2r1b" style="left:448.40px;top:249.00px;font-size:19.80px;transform:scaleY(1.050);">臨床指導医が在籍</div>
<div class="t" id="c2r2a" style="left:449.40px;top:308.00px;font-size:19.80px;transform:scaleY(1.050);">歯周病・インプラント</div>
<div class="t" id="c2r2b" style="left:449.40px;top:333.80px;font-size:19.80px;transform:scaleY(1.050);">専門医と連携</div>
<div class="t" id="c2r3a" style="left:448.00px;top:383.40px;font-size:19.80px;transform:scaleY(1.050);">トラブル対応・</div>
<div class="t" id="c2r3b" style="left:449.00px;top:408.00px;font-size:19.80px;transform:scaleY(1.050);">院内完結型</div>
<div class="t" id="c2r3c" style="left:449.40px;top:434.40px;font-size:19.80px;transform:scaleY(1.050);"><span class="hw">（</span>チーム医療<span class="hw">）</span></div>
<div class="t" id="c3r1a" style="left:782.60px;top:223.00px;font-size:19.80px;transform:scaleY(1.050);">総額提示（トータル</div>
<div class="t" id="c3r1b" style="left:780.60px;top:250.60px;font-size:19.80px;transform:scaleY(1.050);">フィー）で明確</div>
<div class="t" id="c3r2a" style="left:781.60px;top:308.40px;font-size:19.80px;transform:scaleY(1.050);">デンタルローン・</div>
<div class="t" id="c3r2b" style="left:781.60px;top:333.80px;font-size:19.80px;transform:scaleY(1.050);">院内分割払い可</div>
<div class="t" id="c3r3a" style="left:781.60px;top:393.00px;font-size:19.80px;transform:scaleY(1.050);">無料相談・検査料</div>
<div class="t" id="c3r3b" style="left:781.60px;top:418.60px;font-size:19.80px;transform:scaleY(1.050);">の有無を確認</div>
<div class="t" id="b1" style="left:289.80px;top:500.25px;font-size:20.70px;transform:scaleY(1.010);">これら<span class="d">3</span>つのバランスが、後悔しないための鍵！</div>
<div class="t" id="b2" style="left:338.80px;top:525.45px;font-size:20.55px;transform:scaleY(1.010);">自分に合った医院を見極めましょう。</div>
</body>
</html>
